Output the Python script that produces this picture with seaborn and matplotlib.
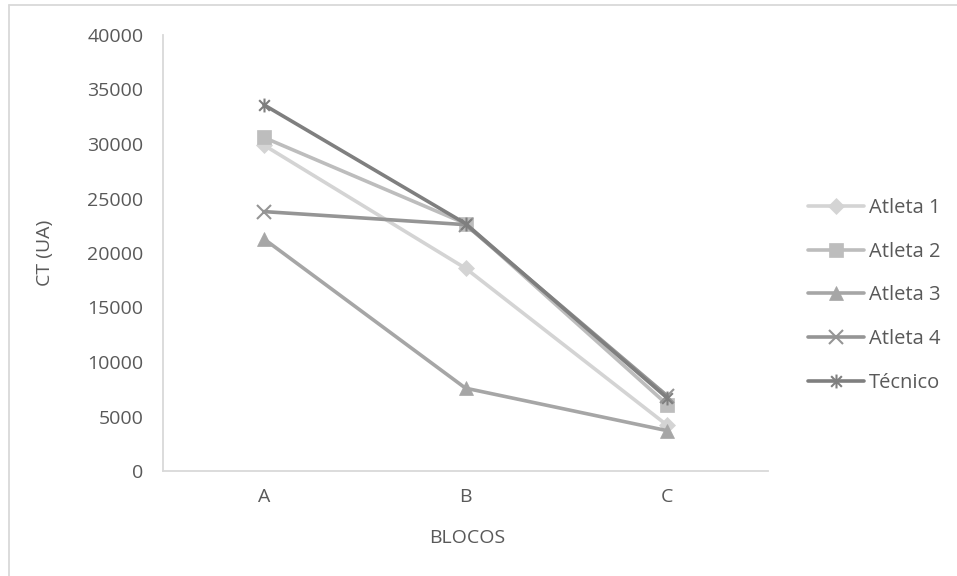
import matplotlib
matplotlib.use("Agg")
import matplotlib.pyplot as plt
from matplotlib.path import Path
from matplotlib.lines import Line2D
import seaborn as sns
import pandas as pd

categories = ["A", "B", "C"]
atleta1 = [29900, 18600, 4200]
atleta2 = [30600, 22700, 6100]
atleta3 = [21300, 7600, 3700]
atleta4 = [23800, 22600, 6900]
tecnico = [33600, 22700, 6700]
series_names = ["Atleta 1", "Atleta 2", "Atleta 3", "Atleta 4", "Técnico"]
y_ticks = [0, 5000, 10000, 15000, 20000, 25000, 30000, 35000, 40000]

sns.set_theme(style="white")
plt.rcParams["font.family"] = ["Open Sans", "DejaVu Sans"]

star = Path([(-1, -1), (1, 1), (-1, 1), (1, -1), (0, -1.3), (0, 1.3)],
            [Path.MOVETO, Path.LINETO, Path.MOVETO, Path.LINETO, Path.MOVETO, Path.LINETO])

colors = ["#D4D4D4", "#BDBDBD", "#A6A6A6", "#959595", "#7F7F7F"]
markers = ["D", "s", "^", "x", star]
msizes = [8, 10, 10, 10, 10]

fig = plt.figure(figsize=(9.57, 5.76), dpi=100)
ax = fig.add_axes([163/957, 1-471/576, (768-163)/957, (471-35)/576])

data = [atleta1, atleta2, atleta3, atleta4, tecnico]
for name, vals, c, m, ms in zip(series_names, data, colors, markers, msizes):
    df = pd.DataFrame({"BLOCOS": categories, "CT": vals})
    sns.lineplot(data=df, x="BLOCOS", y="CT", ax=ax, color=c, marker=m,
                 markersize=ms, linewidth=2.6, markeredgecolor=c,
                 markeredgewidth=1.5 if m in ("x",) or m is star else 0.5,
                 label=name, sort=False)

ax.set_xlim(-0.5, 2.5)
ax.set_ylim(0, 40000)
ax.set_yticks(y_ticks)
ax.set_yticklabels([str(v) for v in y_ticks])
ax.tick_params(axis="both", length=0, labelsize=14, labelcolor="#595959", pad=14)
ax.tick_params(axis="x", pad=12)
for s in ["top", "right"]:
    ax.spines[s].set_visible(False)
for s in ["left", "bottom"]:
    ax.spines[s].set_color("#D9D9D9")
    ax.spines[s].set_linewidth(1.3)
ax.set_xlabel("BLOCOS", fontsize=14, color="#595959")
ax.set_ylabel("CT (UA)", fontsize=14, color="#595959")
ax.xaxis.set_label_coords(0.502, -0.134)
ax.yaxis.set_label_coords(-0.180, 0.5)

ax.legend(loc="center left", bbox_to_anchor=(0.836, 0.487), bbox_transform=fig.transFigure,
          frameon=False, fontsize=14.5, labelcolor="#595959", handlelength=2.8,
          handletextpad=0.2, labelspacing=1.18, borderaxespad=0)

fig.add_artist(Line2D([9/957, 9/957], [0, 1-5/576], transform=fig.transFigure, color="#D9D9D9", lw=1.3))
fig.add_artist(Line2D([9/957, 1], [1-5/576, 1-5/576], transform=fig.transFigure, color="#D9D9D9", lw=1.3))

fig.savefig("out.png", dpi=100, facecolor="white")
